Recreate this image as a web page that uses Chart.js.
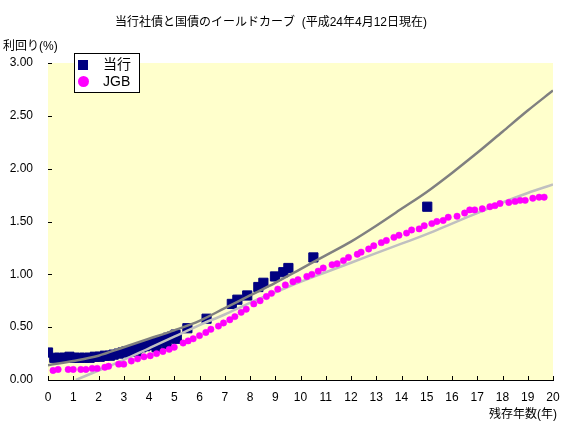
<!DOCTYPE html>
<html>
<head>
<meta charset="utf-8">
<script src="https://cdn.jsdelivr.net/npm/chart.js@4.4.1/dist/chart.umd.min.js"></script>
<style>
  body { margin: 0; background: #fff; }
  #wrap { width: 570px; height: 430px; }
</style>
</head>
<body>
<div id="wrap"><canvas id="chart" width="570" height="430"></canvas></div>
<script>
// 当行社債 (残存年数, 利回り)
const tohoYears  = [0.0, 0.25, 0.45, 0.65, 0.85, 1.05, 1.25, 1.45, 1.65, 1.85, 2.05, 2.25, 2.45, 2.6, 2.8, 2.95,
                    3.1, 3.25, 3.4, 3.5, 3.55, 3.7, 3.85, 4.0, 4.15, 4.3, 4.3, 4.45, 4.6, 4.7, 4.75, 4.9, 5.05, 5.1,
                    5.52, 6.28, 7.28, 7.5, 7.89, 8.33, 8.53, 8.99, 9.32, 9.52, 10.51, 15.02];
const tohoYields = [0.26, 0.21, 0.21, 0.21, 0.22, 0.21, 0.21, 0.21, 0.21, 0.22, 0.22, 0.23, 0.23, 0.24, 0.25, 0.26,
                    0.27, 0.27, 0.29, 0.27, 0.30, 0.31, 0.32, 0.33, 0.34, 0.35, 0.31, 0.37, 0.38, 0.34, 0.40, 0.41, 0.43, 0.39,
                    0.49, 0.58, 0.72, 0.76, 0.80, 0.88, 0.92, 0.98, 1.02, 1.06, 1.16, 1.64];

// 国債 (JGB)
const jgbYears  = [0.2, 0.4, 0.8, 1.0, 1.3, 1.5, 1.75, 1.95, 2.25, 2.4, 2.8, 3.0, 3.3, 3.55, 3.8, 4.05, 4.3, 4.55, 4.8, 5.0,
                   5.35, 5.55, 5.75, 6.0, 6.25, 6.45, 6.75, 6.95, 7.2, 7.4, 7.65, 7.85, 8.15, 8.4, 8.65, 8.85, 9.1, 9.4,
                   9.7, 9.9, 10.25, 10.45, 10.7, 10.9, 11.25, 11.45, 11.7, 11.9, 12.25, 12.4, 12.7, 12.9, 13.2, 13.4,
                   13.7, 13.9, 14.2, 14.4, 14.7, 14.9, 15.2, 15.4, 15.65, 15.85, 16.2, 16.5, 16.7, 16.9, 17.2, 17.5,
                   17.7, 17.9, 18.25, 18.5, 18.7, 18.9, 19.2, 19.45, 19.65];
const jgbYields = [0.09, 0.10, 0.10, 0.10, 0.10, 0.10, 0.11, 0.11, 0.12, 0.13, 0.15, 0.15, 0.18, 0.20, 0.22, 0.23, 0.25, 0.27, 0.29, 0.31,
                   0.35, 0.37, 0.39, 0.42, 0.45, 0.48, 0.51, 0.54, 0.57, 0.60, 0.64, 0.67, 0.72, 0.75, 0.79, 0.82, 0.86, 0.90,
                   0.93, 0.95, 0.98, 1.00, 1.03, 1.06, 1.09, 1.10, 1.13, 1.16, 1.19, 1.21, 1.24, 1.27, 1.30, 1.32,
                   1.35, 1.37, 1.39, 1.42, 1.43, 1.46, 1.48, 1.50, 1.51, 1.54, 1.55, 1.58, 1.61, 1.61, 1.62, 1.64,
                   1.65, 1.67, 1.68, 1.69, 1.70, 1.70, 1.72, 1.73, 1.73];

// 近似曲線
const tohoFitYears  = [0, 1, 2, 3, 4, 5, 6, 7, 8, 9, 10, 11, 12, 13, 14, 15, 16, 17, 18, 19, 20];
const tohoFitYields = [0.14, 0.18, 0.23, 0.31, 0.39, 0.47, 0.56, 0.68, 0.80, 0.92, 1.05, 1.18, 1.31, 1.46, 1.62, 1.78, 1.96, 2.15, 2.35, 2.55, 2.74];
const jgbFitYears   = [1.1, 2, 3, 4, 5, 6, 7, 8, 9, 10, 11, 12, 13, 14, 15, 16, 17, 18, 19, 20];
const jgbFitYields  = [0.00, 0.09, 0.19, 0.30, 0.41, 0.52, 0.62, 0.73, 0.83, 0.93, 1.02, 1.11, 1.20, 1.29, 1.38, 1.48, 1.58, 1.68, 1.77, 1.85];

const FONT = "'Liberation Sans', 'Noto Sans CJK JP', sans-serif";

function toPoints(xs, ys) {
    return xs.map((x, i) => ({ x: x, y: ys[i] }));
}

// 背景・内向き目盛り・タイトル・凡例
const decor = {
    id: 'decor',
    beforeDatasetsDraw(chart) {
        const a = chart.chartArea;
        const ctx = chart.ctx;
        ctx.save();
        ctx.fillStyle = '#FFFFCC';
        ctx.fillRect(a.left, a.top, a.right - a.left, a.bottom - a.top);
        ctx.restore();
    },
    afterDraw(chart) {
        const ctx = chart.ctx;
        const a = chart.chartArea;
        const xs = chart.scales.x, ys = chart.scales.y;
        ctx.save();

        ctx.strokeStyle = '#000';
        ctx.lineWidth = 1;
        ctx.beginPath();
        xs.ticks.forEach(t => {
            const px = Math.round(xs.getPixelForValue(t.value)) + 0.5;
            ctx.moveTo(px, a.bottom);
            ctx.lineTo(px, a.bottom - 4);
        });
        ys.ticks.forEach(t => {
            const py = Math.round(ys.getPixelForValue(t.value)) + 0.5;
            ctx.moveTo(a.left, py);
            ctx.lineTo(a.left + 4, py);
        });
        ctx.stroke();

        ctx.fillStyle = '#000';
        ctx.textBaseline = 'middle';
        ctx.font = '12px ' + FONT;
        ctx.textAlign = 'center';
        ctx.fillText('当行社債と国債のイールドカーブ  (平成24年4月12日現在)', 271, 23);
        ctx.textAlign = 'left';
        ctx.fillText('利回り(%)', 3, 47);
        ctx.textAlign = 'right';
        ctx.fillText('残存年数(年)', 557, 415);

        // 凡例
        ctx.fillStyle = '#fff';
        ctx.fillRect(74.5, 53.5, 65, 39);
        ctx.strokeRect(74.5, 53.5, 65, 39);
        ctx.fillStyle = '#000080';
        ctx.fillRect(78, 60, 10, 10);
        ctx.fillStyle = '#FF00FF';
        ctx.beginPath();
        ctx.arc(83.5, 81.5, 5.5, 0, Math.PI * 2);
        ctx.fill();
        ctx.fillStyle = '#000';
        ctx.textAlign = 'left';
        ctx.font = '14px ' + FONT;
        ctx.fillText('当行', 103, 65);
        ctx.fillText('JGB', 103, 82);
        ctx.restore();
    }
};

new Chart(document.getElementById('chart'), {
    type: 'scatter',
    data: {
        datasets: [
            {
                label: 'JGB',
                data: toPoints(jgbYears, jgbYields),
                pointStyle: 'circle',
                pointRadius: 3.2,
                borderWidth: 0.5,
                backgroundColor: '#FF00FF',
                borderColor: '#FF00FF',
                order: 1
            },
            {
                label: 'JGB近似',
                data: toPoints(jgbFitYears, jgbFitYields),
                showLine: true,
                pointRadius: 0,
                borderColor: '#C0C0C0',
                borderWidth: 2.5,
                cubicInterpolationMode: 'monotone',
                order: 2
            },
            {
                label: '当行近似',
                data: toPoints(tohoFitYears, tohoFitYields),
                showLine: true,
                pointRadius: 0,
                borderColor: '#808080',
                borderWidth: 2.5,
                cubicInterpolationMode: 'monotone',
                order: 3
            },
            {
                label: '当行',
                data: toPoints(tohoYears, tohoYields),
                pointStyle: 'rect',
                pointRadius: 6.5,
                borderWidth: 1,
                backgroundColor: '#000080',
                borderColor: '#000080',
                order: 4
            }
        ]
    },
    options: {
        responsive: false,
        animation: false,
        layout: { padding: { top: 63, right: 17, bottom: 0, left: 0 } },
        plugins: {
            legend: { display: false },
            tooltip: { enabled: false }
        },
        scales: {
            x: {
                type: 'linear', min: 0, max: 20,
                afterFit: s => { s.height = 50; },
                border: { display: true, color: '#000', width: 1 },
                grid: { drawOnChartArea: false, drawTicks: false },
                ticks: { stepSize: 1, padding: 10, maxRotation: 0, color: '#000', font: { family: FONT, size: 12 } }
            },
            y: {
                min: 0, max: 3,
                afterFit: s => { s.width = 48; },
                border: { display: true, color: '#000', width: 1 },
                grid: { drawOnChartArea: false, drawTicks: false },
                ticks: {
                    stepSize: 0.5, padding: 15, color: '#000', font: { family: FONT, size: 12 },
                    callback: v => v.toFixed(2)
                }
            }
        }
    },
    plugins: [decor]
});
</script>
</body>
</html>
